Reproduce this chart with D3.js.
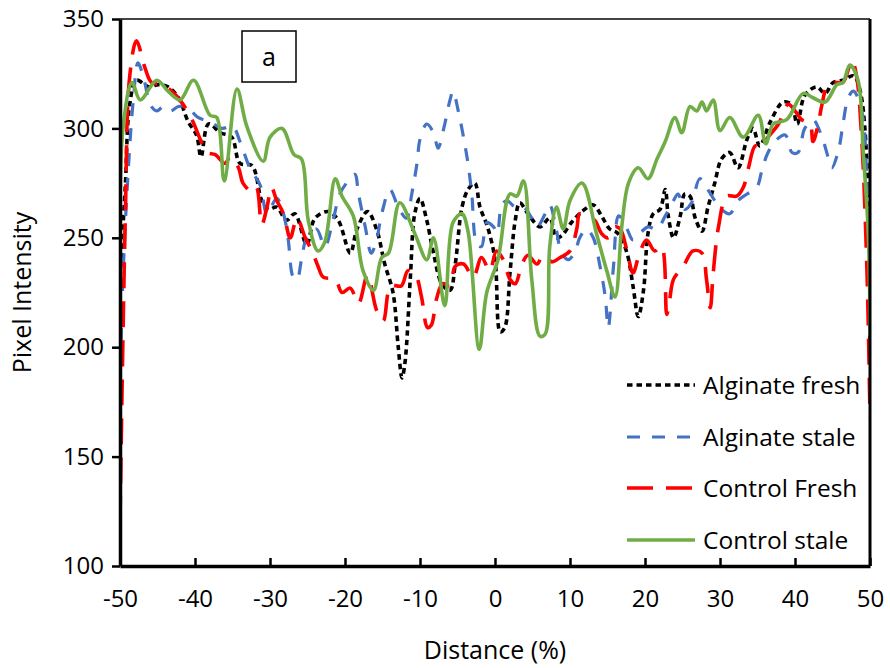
<!DOCTYPE html>
<html><head><meta charset="utf-8">
<script src="https://cdn.jsdelivr.net/npm/d3@7"></script>
<style>body{margin:0;background:#fff}svg{display:block}text{font-family:"Open Sans",sans-serif}</style>
</head><body><svg id="c" width="890" height="668"></svg>
<script>
const seriesNames = ["Alginate fresh","Alginate stale","Control Fresh","Control stale"];
const xTicks = [-50,-40,-30,-20,-10,0,10,20,30,40,50];
const yTicks = [100,150,200,250,300,350];

const alginateFreshX = [-50,-49.3,-48.7,-47.8,-46.2,-44.9,-43.6,-42.2,-40.9,-39.8,-39.2,-38.2,-36.6,-35.1,-34,-32.4,-31.1,-30.2,-29.1,-27.8,-26.7,-25.1,-24,-22.2,-20.9,-19.3,-18.4,-17,-15.8,-14.7,-13.6,-12.9,-12.4,-12,-11.3,-10.7,-10,-9.1,-8.2,-7.1,-6,-5.3,-4.4,-3.6,-2.7,-2,-1,0,0.7,1.3,2,2.7,3.3,4.4,6,7.3,8.2,8.9,10.2,11.6,13.1,14.2,15.3,16.4,17.6,18.4,19.1,19.8,20.4,21.1,22,22.7,23.1,23.8,24.7,25.3,26,26.7,27.6,28.4,29.3,30.2,31.3,32.4,33.6,34.4,35.3,36.7,38.4,39.5,40.3,41.3,42.9,44,45.1,46.4,47.8,48.7,49.8,50];
const alginateFreshY = [232,273,311,322,319,320,319,314,303,297,287,302,298,296,284,283,267,263,264,258,261,247,259,262,258,243,254,262,254,238,225,200,186,193,231,261,268,258,243,229,226,238,264,272,275,264,255,240,207,209,234,258,266,261,255,259,250,251,257,262,265,260,254,252,243,228,214,226,252,261,263,272,260,250,260,270,269,259,253,264,275,286,289,282,295,300,292,303,312,311,302,315,319,316,321,322,324,317,266,200];

const alginateStaleX = [-50,-49.6,-48.9,-48.2,-47.6,-46.7,-46,-45.1,-44.2,-43.3,-42.2,-41.1,-39.6,-38,-36.4,-35,-34,-32.7,-31.3,-30.4,-29.1,-28.2,-27.6,-26.9,-26.4,-25.8,-25.1,-23.8,-22.7,-21.6,-20.7,-19.8,-18.7,-18.2,-17.3,-16.5,-15.8,-15.1,-14,-12.9,-11.8,-11.1,-10.4,-10,-9.1,-8.2,-7.6,-6.7,-6,-5.6,-4.9,-4.2,-3.6,-3.1,-2.4,-1.8,-1.1,-0.2,0.3,0.9,1.6,2.7,3.8,4.9,5.6,6.7,7.3,8,8.9,9.8,10.7,11.3,12.2,13.1,14,14.7,15.1,15.8,16.5,17.6,18.4,19.6,20.4,21.6,22.7,23.8,24.4,25.3,26.2,27.3,28.2,29.3,30.2,31.3,32.4,33.6,34.9,35.6,36.4,37.6,38.7,39.6,40.4,41.3,42.4,43.6,44.4,44.9,45.8,46.4,47.1,47.8,48.9,49.6,50];
const alginateStaleY = [180,232,281,314,330,321,311,308,310,308,310,310,305,303,300,301,294,282,274,261,268,261,250,232,231,240,250,254,246,258,270,275,279,270,255,243,249,261,272,264,259,270,284,295,302,298,291,302,313,317,308,296,284,270,247,246,257,255,252,265,267,264,264,259,255,261,265,257,243,240,244,250,254,250,237,223,209,237,260,254,249,253,255,254,260,267,270,263,266,277,273,267,263,261,267,270,273,281,289,295,297,289,289,300,304,296,287,282,290,302,314,317,308,276,245];

const controlFreshX = [-50,-49.3,-48.7,-47.8,-46.7,-45.8,-44.4,-43.1,-41.8,-40.4,-39.3,-38.4,-37.3,-36,-35.3,-34.2,-33.6,-32.4,-31.8,-31.1,-30.4,-29.8,-29.1,-28.2,-27.3,-26.4,-25.3,-24.4,-23.6,-22.9,-21.3,-20.4,-19.3,-18.2,-17,-15.8,-14.9,-13.9,-12.5,-11.6,-10.6,-9.8,-9,-8.5,-7.8,-7,-6,-5.3,-4.2,-2.9,-1.8,-0.7,0.2,1.1,2,2.7,3.6,4.4,5.6,6.4,7.6,8.7,10,10.9,11.3,12.2,13.3,14.2,15.1,16,16.7,17.6,18.4,19.2,20.2,21.3,22.2,22.9,23.3,23.8,25.1,26.4,27.6,28.2,28.7,29.1,29.8,30.9,32.2,33.1,33.8,34.7,35.6,36.4,37.8,39.1,40,40.9,42,42.4,43.1,43.6,44.4,45.6,46.4,47.6,48.2,48.9,49.6,50];
const controlFreshY = [120,258,324,340,328,321,320,317,312,304,295,289,288,284,287,282,275,271,273,256,264,273,267,261,250,259,250,244,237,232,231,225,227,220,233,217,212,228,228,235,233,223,209,210,222,229,228,237,238,232,241,235,244,240,231,229,238,242,238,242,239,241,244,254,261,260,258,252,250,255,254,244,234,242,249,244,246,215,222,231,237,244,243,231,218,234,255,269,269,273,282,292,292,296,302,311,308,304,302,294,302,311,320,321,321,331,324,295,234,168];

const controlStaleX = [-50,-49.6,-48.4,-47.3,-45.1,-43.6,-42,-40.2,-38,-37.1,-36.1,-34.4,-33.1,-30.9,-30,-28.4,-26.8,-25.8,-24.9,-23.6,-22.7,-21.3,-20.4,-18.9,-17.6,-16.2,-15.1,-14.2,-12.7,-10.7,-9.1,-8.2,-6.7,-5.6,-4.4,-3.6,-2.1,-1.1,0.4,2,2.9,3.8,4.9,6,6.7,7.3,8.2,9.1,10,11.6,13.6,14.9,16,16.9,17.8,19.1,20.4,21.6,22.7,24,24.9,26,26.9,27.6,28.2,29.1,30,31.3,33.1,35.1,36.1,37.1,38.9,41.1,42.4,44,45.6,46.4,47.3,48.4,49.1,49.8,50];
const controlStaleY = [258,300,321,313,322,317,313,322,306,305,276,318,301,285,296,300,288,286,258,244,248,277,269,260,235,226,241,243,266,252,240,250,219,257,261,253,199,225,240,270,269,276,231,205,206,246,264,254,267,275,251,235,223,255,275,282,277,286,294,305,298,310,308,312,308,313,299,305,296,306,293,302,304,316,314,312,320,321,329,322,289,250,205];

const svg = d3.select("#c");
const m = {l:120, r:870, t:19, b:566};
const x = d3.scaleLinear().domain([-50,50]).range([m.l, m.r]);
const y = d3.scaleLinear().domain([100,350]).range([m.b, m.t]);

svg.append("defs").append("clipPath").attr("id","clip")
  .append("rect").attr("x",m.l).attr("y",m.t-2).attr("width",m.r-m.l).attr("height",m.b-m.t+2);

const styles = [
  {color:"#000000", dash:"5.5,4", w:3.6},
  {color:"#4472C4", dash:"13,12", w:3.2},
  {color:"#FF0000", dash:"26,13", w:3.6},
  {color:"#70AD47", dash:null, w:3.6}
];
const data = [
  d3.zip(alginateFreshX, alginateFreshY),
  d3.zip(alginateStaleX, alginateStaleY),
  d3.zip(controlFreshX, controlFreshY),
  d3.zip(controlStaleX, controlStaleY)
];

const line = d3.line().x(d=>x(d[0])).y(d=>y(d[1])).curve(d3.curveCatmullRom.alpha(0.5));
const g = svg.append("g").attr("clip-path","url(#clip)");
data.forEach((d,i)=>{
  g.append("path").attr("d", line(d)).attr("fill","none")
    .attr("stroke", styles[i].color).attr("stroke-width", styles[i].w)
    .attr("stroke-dasharray", styles[i].dash).attr("stroke-linejoin","round");
});

// frame
svg.append("line").attr("x1",m.l).attr("x2",m.r).attr("y1",m.t).attr("y2",m.t).attr("stroke","#444").attr("stroke-width",2);
svg.append("line").attr("x1",m.r).attr("x2",m.r).attr("y1",m.t).attr("y2",m.b).attr("stroke","#000").attr("stroke-width",3);

// axes
const fmt = d => String(d);
const yAxis = d3.axisLeft(y).tickValues(yTicks).tickFormat(fmt).tickSizeInner(8).tickSizeOuter(0).tickPadding(8);
const ya = svg.append("g").attr("transform",`translate(${m.l},0)`).call(yAxis);
ya.select(".domain").attr("stroke","#000").attr("stroke-width",3.5);
ya.selectAll(".tick line").attr("stroke","#000").attr("stroke-width",2.5);
ya.selectAll(".tick text").attr("font-size",24).attr("fill","#000").attr("font-family","Open Sans");

const xAxis = d3.axisBottom(x).tickValues(xTicks).tickFormat(fmt).tickSizeInner(-8).tickSizeOuter(0).tickPadding(24);
const xa = svg.append("g").attr("transform",`translate(0,${m.b})`).call(xAxis);
xa.select(".domain").attr("stroke","#000").attr("stroke-width",3.5);
xa.selectAll(".tick line").attr("stroke","#000").attr("stroke-width",2.5);
xa.selectAll(".tick text").attr("font-size",24).attr("fill","#000").attr("font-family","Open Sans");

svg.append("text").attr("x",(m.l+m.r)/2).attr("y",659).attr("text-anchor","middle")
  .attr("font-size",25).attr("fill","#000").text("Distance (%)");
svg.append("text").attr("transform",`translate(31,${(m.t+m.b)/2}) rotate(-90)`).attr("text-anchor","middle")
  .attr("font-size",25).attr("fill","#000").text("Pixel Intensity");

// label box
svg.append("rect").attr("x",242).attr("y",31).attr("width",54).attr("height",51)
  .attr("fill","#fff").attr("stroke","#000").attr("stroke-width",1.5);
svg.append("text").attr("x",269).attr("y",66).attr("text-anchor","middle").attr("font-size",25).attr("fill","#000").text("a");

// legend
const ly = [385, 437, 488, 540];
seriesNames.forEach((n,i)=>{
  svg.append("line").attr("x1",627).attr("x2",695).attr("y1",ly[i]).attr("y2",ly[i])
    .attr("stroke",styles[i].color).attr("stroke-width",styles[i].w).attr("stroke-dasharray",styles[i].dash);
  svg.append("text").attr("x",703).attr("y",ly[i]).attr("dy","0.35em").attr("font-size",24.5).attr("fill","#000").text(n);
});
</script></body></html>
